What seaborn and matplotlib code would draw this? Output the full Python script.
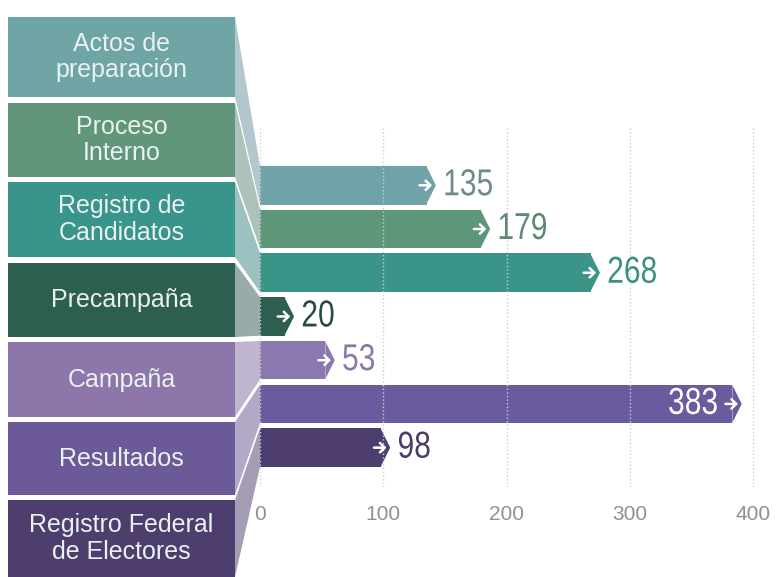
import matplotlib
matplotlib.use("Agg")
import matplotlib.pyplot as plt
import matplotlib.colors as mcolors
from matplotlib.patches import Rectangle, Polygon
from matplotlib.patheffects import AbstractPathEffect
from matplotlib.transforms import Affine2D, offset_copy
import seaborn as sns
import pandas as pd
import numpy as np

# ---------------- data ----------------
categories = ["Actos de\npreparación", "Proceso\nInterno", "Registro de\nCandidatos",
              "Precampaña", "Campaña", "Resultados", "Registro Federal\nde Electores"]
values = [135, 179, 268, 20, 53, 383, 98]
xticks = [0, 100, 200, 300, 400]

box_colors = ["#6fa5a5", "#62967a", "#39948a", "#2d5f50", "#8c76aa", "#6c5a98", "#4e3e6e"]
bar_colors = ["#6fa3a8", "#5e967a", "#3a9488", "#2e5e50", "#8a78ae", "#6a5a9e", "#4e3e70"]
label_colors = ["#6f8a8c", "#5c8a70", "#3a9080", "#2a4a40", "#8a78a8", "#ffffff", "#4a3d66"]


class Condense(AbstractPathEffect):
    """Horizontally condense text (narrow font look), anchored left or right."""

    def __init__(self, sx=0.8, anchor="left"):
        super().__init__()
        self.sx = sx
        self.anchor = anchor

    def draw_path(self, renderer, gc, tpath, affine, rgbFace=None):
        if self.anchor == "right":
            w = tpath.get_extents().x1
            pre = Affine2D().translate(-w, 0).scale(self.sx, 1).translate(w, 0)
        else:
            pre = Affine2D().scale(self.sx, 1)
        renderer.draw_path(gc, tpath, pre + affine, rgbFace)


# ---------------- style ----------------
sns.set_theme(style="white")
plt.rcParams["font.family"] = ["Liberation Sans", "DejaVu Sans"]

W, H = 782, 577
fig = plt.figure(figsize=(W / 100, H / 100), dpi=100)
fig.patch.set_facecolor("white")

ax_left, ax_right, ax_top, ax_bot = 260, 778, 128, 487
ax = fig.add_axes([ax_left / W, 1 - ax_bot / H, (ax_right - ax_left) / W, (ax_bot - ax_top) / H])

df = pd.DataFrame({"stage": categories, "value": values})
sns.barplot(data=df, x="value", y="stage", hue="stage", order=categories, hue_order=categories,
            palette=bar_colors, dodge=False, legend=False, width=0.88, saturation=1,
            linewidth=0, ax=ax)

ax.set_xlim(0, 420)
ax.set_ylim(6.9, -1.31)
ax.set_xticks(xticks)
ax.set_xticklabels([str(t) for t in xticks])
ax.set_yticks([])
ax.set_xlabel("")
ax.set_ylabel("")
ax.set_axisbelow(False)
ax.grid(axis="x", linestyle=(0, (1, 1.6)), color="#cdcdcd", linewidth=1.0)
ax.grid(axis="y", visible=False)
ax.tick_params(axis="x", length=0, pad=13, labelsize=15, labelcolor="#909090")
sns.despine(ax=ax, left=True, bottom=True)
ax.patch.set_alpha(0)

# chevron tips at bar ends
chevron = [(0, -1), (0.5, 0), (0, 1)]
ypos = np.arange(len(values))
ax.scatter(values, ypos, marker=chevron, s=27 ** 2, c=bar_colors, linewidths=0, zorder=2)

arrow_tf = offset_copy(ax.transData, fig=fig, x=4, y=0, units="points")
vmax = max(values)
lab_family = ["Liberation Sans", "DejaVu Sans"]
for i, v in enumerate(values):
    # small white arrow on the bar tip
    ax.annotate("", xy=(v, i), xycoords=arrow_tf, xytext=(-9, 0), textcoords="offset points",
                arrowprops=dict(arrowstyle="->,head_length=0.28,head_width=0.28",
                                color="white", lw=1.8, shrinkA=0, shrinkB=0), zorder=5)
    if v == vmax:
        ax.annotate(str(v), (v, i), xytext=(-10, 0), textcoords="offset points", ha="right",
                    va="center", color=label_colors[i], fontsize=27, family=lab_family,
                    path_effects=[Condense(0.8, "right")], zorder=5)
    else:
        ax.annotate(str(v), (v, i), xytext=(12, 0), textcoords="offset points", ha="left",
                    va="center", color=label_colors[i], fontsize=27, family=lab_family,
                    path_effects=[Condense(0.8, "left")], zorder=5)

# ---------------- left stage boxes ----------------
box_x0, box_x1 = 8, 235
box_tops = [17, 103, 182, 263, 342, 422, 500]
box_bots = [97, 177, 257, 337, 417, 495, 577]


def fpt(x, y):
    return (x / W, 1 - y / H)


fig.canvas.draw()
to_fig = fig.transFigure.inverted()
half = 0.44
for i, lab in enumerate(categories):
    t, b = box_tops[i], box_bots[i]
    fig.patches.append(Rectangle(fpt(box_x0, b), (box_x1 - box_x0) / W, (b - t) / H,
                                 transform=fig.transFigure, facecolor=box_colors[i],
                                 edgecolor="none", zorder=1))
    fig.text((box_x0 + box_x1) / 2 / W, 1 - (t + b) / 2 / H, lab, ha="center", va="center",
             color="#eaf1f1", fontsize=18, linespacing=1.12, zorder=3)
    # side face connecting box to bar
    bar_top = to_fig.transform(ax.transData.transform((0, i - half)))
    bar_bot = to_fig.transform(ax.transData.transform((0, i + half)))
    base = np.array(mcolors.to_rgb(box_colors[i]))
    tint = base * 0.42 + np.array(mcolors.to_rgb("#e4e2e8")) * 0.58
    verts = [fpt(box_x1, t), tuple(bar_top), tuple(bar_bot), fpt(box_x1, b)]
    fig.patches.append(Polygon(verts, closed=True, transform=fig.transFigure,
                               facecolor=tint, edgecolor="none", zorder=0))

fig.savefig("out.png", dpi=100, facecolor="white")
